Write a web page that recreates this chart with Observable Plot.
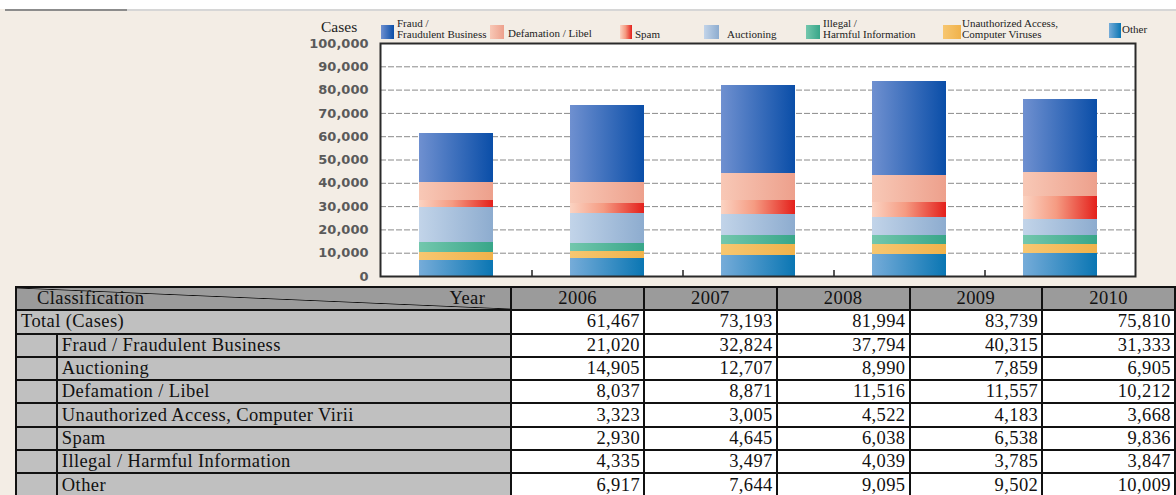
<!DOCTYPE html>
<html><head><meta charset="utf-8">
<script src="https://cdn.jsdelivr.net/npm/d3@7"></script>
<script src="https://cdn.jsdelivr.net/npm/@observablehq/plot@0.6"></script>
<style>
body{margin:0;background:#fff;}
#wrap{position:relative;width:1176px;height:495px;overflow:hidden;background:#f3ede5;}
#topstrip{position:absolute;left:0;top:0;width:1176px;height:9px;background:#fff;}
#rule1{position:absolute;left:5px;top:9px;width:122px;height:2px;background:#8c8c8c;}
#rule2{position:absolute;left:127px;top:9px;width:1049px;height:2px;background:#d6d6d6;}
#chart{position:absolute;left:0;top:0;}
.leg{position:absolute;font-family:"Liberation Serif","Times New Roman",serif;font-size:11px;line-height:10.6px;color:#222;white-space:nowrap;}
.sw{position:absolute;}
#cases{position:absolute;left:321px;top:18px;font-family:"Liberation Serif","Times New Roman",serif;font-size:15.5px;color:#222;}
#tbl{position:absolute;left:15px;top:286px;border-collapse:collapse;table-layout:fixed;font-family:"Liberation Serif","Times New Roman",serif;font-size:18.5px;letter-spacing:0.4px;color:#111;}
#tbl td{border:2px solid #111;height:21.3px;padding:0;line-height:19px;white-space:nowrap;overflow:hidden;}
#tbl td.hd{background:#9b9b9b;text-align:center;}
#tbl td.lab{background:#c0c0c0;padding-left:4px;}
#tbl td.ind{background:#c0c0c0;}
#tbl td.val{background:#fff;text-align:right;padding-right:3px;}
#tbl td.diag{background:#9b9b9b linear-gradient(to top right, transparent calc(50% - 0.8px), #111 50%, transparent calc(50% + 0.8px));}
</style></head>
<body>
<div id="wrap">
  <div id="topstrip"></div><div id="rule1"></div><div id="rule2"></div>
  <div id="chart"></div>
  <div id="cases">Cases</div>
  <div id="legend"></div>
  <table id="tbl"></table>
</div>
<script>
// ---- data ----
const years = ["2006", "2007", "2008", "2009", "2010"];
const fraud        = [21020, 32824, 37794, 40315, 31333];
const auctioning   = [14905, 12707, 8990, 7859, 6905];
const defamation   = [8037, 8871, 11516, 11557, 10212];
const unauthorized = [3323, 3005, 4522, 4183, 3668];
const spam         = [2930, 4645, 6038, 6538, 9836];
const illegal      = [4335, 3497, 4039, 3785, 3847];
const other        = [6917, 7644, 9095, 9502, 10009];
const totals       = [61467, 73193, 81994, 83739, 75810];
const yTicks = [0, 10000, 20000, 30000, 40000, 50000, 60000, 70000, 80000, 90000, 100000];
const gridTicks = [10000, 20000, 30000, 40000, 50000, 60000, 70000, 80000, 90000];

// stacking order, bottom -> top
const stackKeys = ["Other", "Unauthorized", "Illegal", "Auctioning", "Spam", "Defamation", "Fraud"];
const seriesValues = {Other: other, Unauthorized: unauthorized, Illegal: illegal, Auctioning: auctioning, Spam: spam, Defamation: defamation, Fraud: fraud};

// legend (left to right) and table rows
const legendKeys = ["Fraud", "Defamation", "Spam", "Auctioning", "Illegal", "Unauthorized", "Other"];
const legendLabels = [["Fraud /", "Fraudulent Business"], ["Defamation / Libel"], ["Spam"], ["Auctioning"], ["Illegal /", "Harmful Information"], ["Unauthorized Access,", "Computer Viruses"], ["Other"]];
const tableKeys = ["Fraud", "Auctioning", "Defamation", "Unauthorized", "Spam", "Illegal", "Other"];
const tableLabels = ["Fraud / Fraudulent Business", "Auctioning", "Defamation / Libel", "Unauthorized Access, Computer Virii", "Spam", "Illegal / Harmful Information", "Other"];

// ---- styles ----
const gradients = {
  Fraud:        [[0, "#6f90d0"], [1, "#0a4ea8"]],
  Defamation:   [[0, "#f8c8b6"], [1, "#eda08c"]],
  Spam:         [[0, "#fbd3c2"], [0.45, "#f59b82"], [1, "#e4201b"]],
  Auctioning:   [[0, "#c2d4e9"], [1, "#8daccf"]],
  Illegal:      [[0, "#73c7ad"], [1, "#38a689"]],
  Unauthorized: [[0, "#f7c771"], [1, "#f0b24b"]],
  Other:        [[0, "#76acd9"], [1, "#0a76b3"]]
};
const legendLayout = [
  {sx: 381, sw: 13, st: 25, sh: 14, tx: 397, tt: 18},
  {sx: 490, sw: 14, st: 25, sh: 14, tx: 508, tt: 28},
  {sx: 620, sw: 12, st: 25, sh: 14, tx: 635, tt: 29},
  {sx: 704, sw: 15, st: 25, sh: 14, tx: 727, tt: 29},
  {sx: 806, sw: 14, st: 25, sh: 14, tx: 823, tt: 18},
  {sx: 943, sw: 18, st: 25, sh: 14, tx: 962, tt: 18},
  {sx: 1109, sw: 12, st: 23, sh: 15, tx: 1122, tt: 24}
];

const rows = [];
for (const k of stackKeys) years.forEach((yr, i) => rows.push({year: yr, series: k, value: seriesValues[k][i]}));

const W = 1176, H = 286, ML = 380, MR = 41, MT = 43, MB = 10;
const step = (W - ML - MR) / years.length;

const defs = () => {
  const d = d3.create("svg:defs");
  for (const k of stackKeys) {
    const g = d.append("linearGradient").attr("id", "g-" + k).attr("x1", 0).attr("x2", 1).attr("y1", 0).attr("y2", 0);
    for (const [o, c] of gradients[k]) g.append("stop").attr("offset", o).attr("stop-color", c);
  }
  return d.node();
};

const chart = Plot.plot({
  width: W, height: H, marginLeft: ML, marginRight: MR, marginTop: MT, marginBottom: MB,
  style: {background: "transparent", overflow: "visible"},
  x: {domain: years, paddingInner: 0.51, paddingOuter: 0.255, axis: null},
  y: {domain: [0, 100000], axis: null},
  color: {domain: stackKeys, range: stackKeys.map(k => `url(#g-${k})`)},
  marks: [
    defs,
    Plot.frame({fill: "#fff", stroke: "none"}),
    Plot.ruleY(gridTicks, {stroke: "#8a8a8a", strokeDasharray: "6,2", strokeWidth: 1}),
    Plot.barY(rows, {x: "year", y: "value", fill: "series", shapeRendering: "crispEdges"}),
    Plot.ruleX(years.slice(0, -1), {x: d => d, dx: step / 2, y1: 0, y2: 2600, stroke: "#222", strokeWidth: 1.5}),
    Plot.frame({stroke: "#2a2a2a", strokeWidth: 2}),
    Plot.axisY({ticks: yTicks, tickFormat: d3.format(","), tickSize: 0, tickPadding: 12, label: null,
      fontFamily: "DejaVu Sans", fontSize: 13, fontWeight: "bold", fill: "#5a5a5a"})
  ]
});
document.getElementById("chart").appendChild(chart);

// legend
const leg = document.getElementById("legend");
legendKeys.forEach((k, i) => {
  const L = legendLayout[i];
  const sw = document.createElement("div");
  sw.className = "sw";
  sw.style.cssText = `left:${L.sx}px;top:${L.st}px;width:${L.sw}px;height:${L.sh}px;background:linear-gradient(to right, ${gradients[k].map(([o, c]) => c + " " + (o * 100) + "%").join(",")});`;
  leg.appendChild(sw);
  const t = document.createElement("div");
  t.className = "leg";
  t.style.left = L.tx + "px"; t.style.top = L.tt + "px";
  t.innerHTML = legendLabels[i].join("<br>");
  leg.appendChild(t);
});

// table
const fmt = d3.format(",");
const tbl = document.getElementById("tbl");
let html = `<colgroup><col style="width:41px"><col style="width:455px">${years.map(() => '<col style="width:133px">').join("")}</colgroup>`;
html += `<tr><td colspan="2" class="diag"><div style="display:flex;justify-content:space-between;padding:0 25px 0 20px;"><span>Classification</span><span>Year</span></div></td>${years.map(y => `<td class="hd">${y}</td>`).join("")}</tr>`;
html += `<tr><td colspan="2" class="lab">Total (Cases)</td>${totals.map(v => `<td class="val">${fmt(v)}</td>`).join("")}</tr>`;
tableKeys.forEach((k, i) => {
  html += `<tr><td class="ind"></td><td class="lab">${tableLabels[i]}</td>${seriesValues[k].map(v => `<td class="val">${fmt(v)}</td>`).join("")}</tr>`;
});
tbl.innerHTML = html;
</script>
</body></html>
